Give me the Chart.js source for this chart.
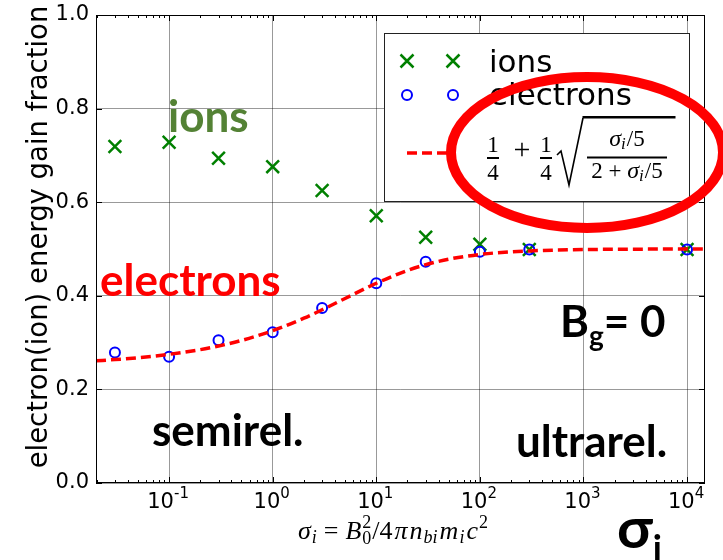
<!DOCTYPE html>
<html>
<head>
<meta charset="utf-8">
<script src="https://cdn.jsdelivr.net/npm/chart.js@4.4.1/dist/chart.umd.min.js"></script>
<style>
  html, body { margin: 0; padding: 0; background: #fff; }
  #contenedor { width: 723px; height: 560px; }
</style>
</head>
<body>
<div id="contenedor"><canvas id="graficaFraccion" width="723" height="560"></canvas></div>
<script>
"use strict";
/* DATOS */
const sigmaSim = [0.03, 0.1, 0.3, 1, 3, 10, 30, 100, 300, 10000];
const fraccionIones = [0.719, 0.728, 0.694, 0.676, 0.625, 0.571, 0.525, 0.510, 0.499, 0.499];
const fraccionElectrones = [0.279, 0.270, 0.305, 0.322, 0.374, 0.427, 0.473, 0.494, 0.499, 0.499];
// curva teórica 1/4 + 1/4 sqrt((s/5)/(2+s/5)), valores tabulados
const sigmaAjuste = [0.0197, 0.03, 0.05, 0.1, 0.2, 0.3, 0.5, 1, 2, 3, 5, 10, 20, 30, 50, 100, 200, 300, 500, 1000, 2000, 5000, 10000, 14900];
const fraccionAjuste = [0.2611, 0.2637, 0.2676, 0.2749, 0.2850, 0.2927, 0.3046, 0.3254, 0.3521, 0.3701, 0.3943, 0.4268, 0.4541, 0.4665, 0.4782, 0.4884, 0.4940, 0.4959, 0.4975, 0.4988, 0.4994, 0.4998, 0.4999, 0.4999];
const ticksX = [0.1, 1, 10, 100, 1000, 10000];
const exponentesX = ["-1", "0", "1", "2", "3", "4"];
const ticksY = [0, 0.2, 0.4, 0.6, 0.8, 1.0];
const etiquetasY = ["0.0", "0.2", "0.4", "0.6", "0.8", "1.0"];

const SANS = "'DejaVu Sans'";
const SERIF = "'Liberation Serif'";
const NEGRITA = "Lato, 'DejaVu Sans'";

/* TEXTO POR TRAMOS (sub/superíndices) */
function dibujarTramos(ctx, tramos, x, yBase, centrar) {
    const medir = t => {
        ctx.font = t.f;
        return ctx.measureText(t.t).width + (t.sep || 0);
    };
    let ancho = 0;
    let anchoPrevio = 0;
    tramos.forEach(t => {
        const w = medir(t);
        if (t.atras) {
            ancho += Math.max(0, w - anchoPrevio);
        } else {
            ancho += w;
            anchoPrevio = w;
        }
    });
    let cx = centrar ? x - ancho / 2 : x;
    let inicioPrevio = cx;
    ctx.textAlign = "left";
    ctx.textBaseline = "alphabetic";
    tramos.forEach(t => {
        const w = medir(t);
        if (t.atras) {
            ctx.fillText(t.t, inicioPrevio, yBase + (t.dy || 0));
            cx = Math.max(cx, inicioPrevio + w);
        } else {
            ctx.fillText(t.t, cx, yBase + (t.dy || 0));
            inicioPrevio = cx;
            cx += w;
        }
    });
    return ancho;
}

/* DECORACIÓN: marco, ticks, etiquetas, leyenda, anotaciones */
const decoracion = {
    id: "decoracion",
    afterDraw(chart) {
        const { ctx, chartArea: a, scales } = chart;
        const ejeX = scales.x;
        const ejeY = scales.y;
        ctx.save();

        // marco
        ctx.strokeStyle = "#000";
        ctx.lineWidth = 1;
        ctx.strokeRect(a.left + 0.5, a.top + 0.5, a.right - a.left - 1, a.bottom - a.top - 1);

        // ticks del eje x (hacia dentro)
        ctx.beginPath();
        for (let e = -2; e <= 4; e++) {
            for (let m = 1; m <= 9; m++) {
                const v = m * Math.pow(10, e);
                if (v < ejeX.min || v > ejeX.max) continue;
                const px = Math.round(ejeX.getPixelForValue(v)) + 0.5;
                const largo = m === 1 ? 6 : 3;
                ctx.moveTo(px, a.bottom);
                ctx.lineTo(px, a.bottom - largo);
                ctx.moveTo(px, a.top);
                ctx.lineTo(px, a.top + largo);
            }
        }
        ticksY.forEach(v => {
            const py = Math.round(ejeY.getPixelForValue(v)) + 0.5;
            ctx.moveTo(a.left, py);
            ctx.lineTo(a.left + 6, py);
            ctx.moveTo(a.right, py);
            ctx.lineTo(a.right - 6, py);
        });
        ctx.stroke();

        // etiquetas eje y
        ctx.fillStyle = "#000";
        ctx.font = "21px " + SANS;
        ctx.textAlign = "right";
        ctx.textBaseline = "middle";
        ticksY.forEach((v, i) => {
            ctx.fillText(etiquetasY[i], a.left - 7, ejeY.getPixelForValue(v));
        });

        // etiquetas eje x: 10^n
        ticksX.forEach((v, i) => {
            dibujarTramos(ctx, [
                { t: "10", f: "21px " + SANS },
                { t: exponentesX[i], f: "15px " + SANS, dy: -10 }
            ], ejeX.getPixelForValue(v) - 1, a.bottom + 25, true);
        });

        // título eje y
        ctx.save();
        ctx.translate(47, 237);
        ctx.rotate(-Math.PI / 2);
        ctx.font = "27.5px " + SANS;
        ctx.textAlign = "center";
        ctx.textBaseline = "alphabetic";
        ctx.fillText("electron(ion) energy gain fraction", 0, 0);
        ctx.restore();

        // título eje x
        const fi = "italic 26px " + SERIF;
        const fr = "26px " + SERIF;
        const fs = "italic 18px " + SERIF;
        const fn = "18px " + SERIF;
        dibujarTramos(ctx, [
            { t: "σ", f: fi, sep: 1 }, { t: "i", f: fs, dy: 4, sep: 7 },
            { t: "=", f: fr, sep: 7 },
            { t: "B", f: fi, sep: 1 }, { t: "0", f: fn, dy: 5, sep: 1 }, { t: "2", f: fn, dy: -11, atras: true },
            { t: "/4", f: fr, sep: 2 }, { t: "π", f: fi, sep: 2 }, { t: "n", f: fi, sep: 1 }, { t: "bi", f: fs, dy: 4, sep: 2 },
            { t: "m", f: fi, sep: 1 }, { t: "i", f: fs, dy: 4, sep: 2 },
            { t: "c", f: fi, sep: 1 }, { t: "2", f: fn, dy: -11 }
        ], 298, 539, false);

        // leyenda
        ctx.fillStyle = "#fff";
        ctx.fillRect(384, 33, 305, 168);
        ctx.strokeStyle = "#222";
        ctx.lineWidth = 1;
        ctx.strokeRect(384.5, 33.5, 305, 168);

        [407, 453].forEach(px => {
            ctx.strokeStyle = "#008000";
            ctx.lineWidth = 2.5;
            ctx.beginPath();
            ctx.moveTo(px - 6.5, 54.5); ctx.lineTo(px + 6.5, 67.5);
            ctx.moveTo(px + 6.5, 54.5); ctx.lineTo(px - 6.5, 67.5);
            ctx.stroke();
            ctx.strokeStyle = "#0000ff";
            ctx.lineWidth = 2;
            ctx.beginPath();
            ctx.arc(px, 95, 5, 0, Math.PI * 2);
            ctx.stroke();
        });
        ctx.strokeStyle = "#ff0000";
        ctx.lineWidth = 3.5;
        ctx.setLineDash([10, 5]);
        ctx.beginPath();
        ctx.moveTo(407, 153);
        ctx.lineTo(452, 153);
        ctx.stroke();
        ctx.setLineDash([]);

        ctx.fillStyle = "#000";
        ctx.font = "31px " + SANS;
        ctx.textAlign = "left";
        ctx.textBaseline = "alphabetic";
        ctx.fillText("ions", 489, 72);
        ctx.fillText("electrons", 489, 105);

        // fórmula de la leyenda
        const ff = "23px " + SERIF;
        const ffi = "italic 24px " + SERIF;
        const ffs = "italic 17px " + SERIF;
        ctx.textAlign = "center";
        ctx.font = ff;
        [493, 546].forEach(cx => {
            ctx.fillText("1", cx, 152);
            ctx.fillText("4", cx, 180);
            ctx.fillRect(cx - 6, 157, 12, 2);
        });
        ctx.font = "30px " + SERIF;
        ctx.fillText("+", 522, 159);
        ctx.lineWidth = 1.6;
        ctx.strokeStyle = "#000";
        ctx.beginPath();
        ctx.moveTo(557, 155);
        ctx.lineTo(561, 151);
        ctx.lineTo(569, 185);
        ctx.lineTo(583, 118);
        ctx.stroke();
        ctx.fillRect(582.5, 116, 93, 2.5);
        ctx.fillRect(587, 156.5, 80, 2);
        dibujarTramos(ctx, [
            { t: "σ", f: ffi }, { t: "i", f: ffs, dy: 3, sep: 1 }, { t: "/5", f: ff }
        ], 627, 146, true);
        dibujarTramos(ctx, [
            { t: "2 + ", f: ff }, { t: "σ", f: ffi }, { t: "i", f: ffs, dy: 3, sep: 1 }, { t: "/5", f: ff }
        ], 627, 178, true);

        // anotaciones
        ctx.textAlign = "left";
        ctx.font = "bold 44px " + NEGRITA;
        ctx.fillStyle = "#548235";
        ctx.fillText("ions", 168, 132);
        ctx.fillStyle = "#ff0000";
        ctx.fillText("electrons", 100, 296);
        ctx.fillStyle = "#000";
        ctx.fillText("semirel.", 152, 446);
        ctx.fillText("ultrarel.", 516, 457);
        dibujarTramos(ctx, [
            { t: "B", f: "bold 44px " + NEGRITA },
            { t: "g", f: "bold 28px " + NEGRITA, dy: 9 },
            { t: "= 0", f: "bold 44px " + NEGRITA }
        ], 560, 337, false);
        dibujarTramos(ctx, [
            { t: "σ", f: "bold 58px " + NEGRITA },
            { t: "i", f: "bold 36px " + NEGRITA, dy: 13 }
        ], 617, 548, false);

        // elipse roja
        ctx.strokeStyle = "#ff0000";
        ctx.lineWidth = 10;
        ctx.beginPath();
        ctx.ellipse(587, 152.5, 136, 75.5, 0, 0, Math.PI * 2);
        ctx.stroke();

        ctx.restore();
    }
};

/* GRÁFICA */
function inicializarGrafica() {
    const canvas = document.getElementById("graficaFraccion");
    new Chart(canvas, {
        type: "scatter",
        data: {
            datasets: [
                {
                    label: "ajuste",
                    data: sigmaAjuste.map((s, i) => ({ x: s, y: fraccionAjuste[i] })),
                    showLine: true,
                    borderColor: "#ff0000",
                    borderWidth: 3.5,
                    borderDash: [10, 5],
                    pointRadius: 0,
                    cubicInterpolationMode: "monotone",
                    order: 0
                },
                {
                    label: "electrons",
                    data: sigmaSim.map((s, i) => ({ x: s, y: fraccionElectrones[i] })),
                    pointStyle: "circle",
                    pointRadius: 5,
                    pointBorderColor: "#0000ff",
                    pointBackgroundColor: "rgba(0,0,0,0)",
                    pointBorderWidth: 2,
                    order: 1
                },
                {
                    label: "ions",
                    data: sigmaSim.map((s, i) => ({ x: s, y: fraccionIones[i] })),
                    pointStyle: "crossRot",
                    pointRadius: 9,
                    pointBorderColor: "#008000",
                    pointBorderWidth: 2.5,
                    order: 2
                }
            ]
        },
        options: {
            responsive: false,
            animation: false,
            devicePixelRatio: 1,
            layout: { padding: { left: 96, top: 15, right: 18, bottom: 77 } },
            plugins: { legend: { display: false }, tooltip: { enabled: false } },
            scales: {
                x: {
                    type: "logarithmic",
                    min: 0.0197,
                    max: 14900,
                    afterBuildTicks: s => { s.ticks = ticksX.map(v => ({ value: v })); },
                    ticks: { display: false },
                    grid: { color: "rgba(0,0,0,0.4)", lineWidth: 1, drawTicks: false },
                    border: { display: false }
                },
                y: {
                    min: 0,
                    max: 1,
                    afterBuildTicks: s => { s.ticks = ticksY.map(v => ({ value: v })); },
                    ticks: { display: false },
                    grid: { color: "rgba(0,0,0,0.4)", lineWidth: 1, drawTicks: false },
                    border: { display: false }
                }
            }
        },
        plugins: [decoracion]
    });
}

document.addEventListener("DOMContentLoaded", () => {
    inicializarGrafica();
});
</script>
</body>
</html>
